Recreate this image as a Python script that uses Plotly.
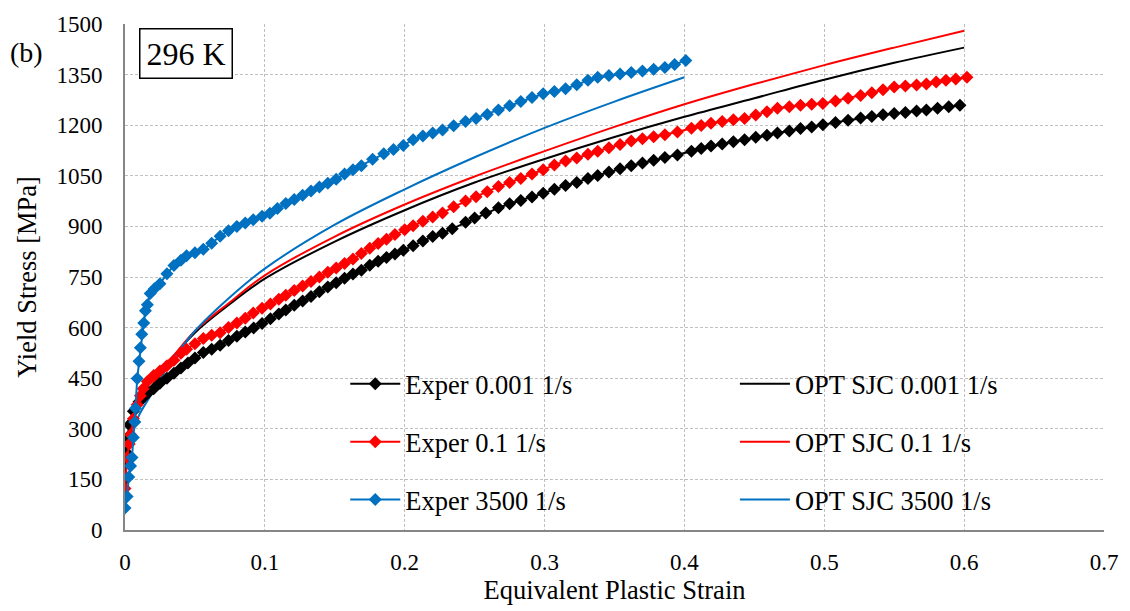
import plotly.graph_objects as go

# ---------------- data ----------------
exp_0001_strain = [0.000, 0.001, 0.002, 0.003, 0.006, 0.010, 0.013, 0.017, 0.0205, 0.025, 0.03, 0.035, 0.04, 0.045, 0.05,
                   0.056, 0.062, 0.068, 0.074, 0.08, 0.086, 0.092, 0.098, 0.104, 0.11, 0.115, 0.121, 0.127, 0.133, 0.139,
                   0.145, 0.151, 0.157, 0.163, 0.169, 0.175, 0.181, 0.187, 0.193, 0.199, 0.206, 0.213, 0.22, 0.227, 0.234,
                   0.2435, 0.25, 0.258, 0.267, 0.275, 0.283, 0.291, 0.299, 0.307, 0.315, 0.323, 0.331, 0.338, 0.346, 0.354,
                   0.362, 0.37, 0.378, 0.386, 0.395, 0.405, 0.412, 0.419, 0.427, 0.435, 0.443, 0.451, 0.459, 0.4665, 0.475,
                   0.483, 0.491, 0.499, 0.508, 0.517, 0.526, 0.534, 0.542, 0.55, 0.558, 0.566, 0.573, 0.581, 0.589, 0.597]
exp_0001_stress = [150, 230, 275, 312, 352, 380, 392, 408, 419, 435, 450, 465, 480, 495, 510,
                   526, 536, 548, 562, 574, 587, 599, 612, 626, 640, 652, 666, 679, 692, 706,
                   720, 733, 746, 759, 770, 785, 797, 808, 818, 829, 843, 857, 870, 880, 893,
                   912, 925, 940, 955, 967, 977, 987, 998, 1010, 1021, 1030, 1042, 1051, 1061, 1071,
                   1080, 1088, 1096, 1104, 1112, 1123, 1131, 1138, 1144, 1151, 1157, 1164, 1170, 1177, 1183,
                   1190, 1195, 1201, 1208, 1215, 1221, 1226, 1231, 1235, 1238, 1242, 1245, 1250, 1255, 1259]

exp_01_strain = [0.000, 0.0015, 0.003, 0.004, 0.006, 0.0087, 0.011, 0.013, 0.016, 0.0205, 0.025, 0.03, 0.035, 0.04, 0.044,
                 0.05, 0.056, 0.062, 0.068, 0.074, 0.08, 0.086, 0.0917, 0.098, 0.104, 0.11, 0.115, 0.121, 0.127, 0.133,
                 0.139, 0.145, 0.151, 0.157, 0.163, 0.169, 0.175, 0.181, 0.187, 0.193, 0.2, 0.206, 0.213, 0.22, 0.227,
                 0.235, 0.2435, 0.251, 0.259, 0.267, 0.275, 0.283, 0.291, 0.299, 0.307, 0.315, 0.323, 0.331, 0.338, 0.346,
                 0.354, 0.362, 0.37, 0.378, 0.386, 0.395, 0.405, 0.412, 0.419, 0.427, 0.435, 0.443, 0.451, 0.459, 0.4665,
                 0.475, 0.483, 0.491, 0.499, 0.508, 0.517, 0.526, 0.534, 0.542, 0.55, 0.558, 0.566, 0.573, 0.58, 0.587,
                 0.594, 0.602]
exp_01_stress = [123, 215, 255, 283, 330, 371, 398, 419, 440, 458, 471, 487, 503, 524, 536,
                 552, 568, 577, 585, 600, 614, 628, 643, 657, 670, 684, 696, 710, 723, 737,
                 750, 764, 777, 790, 803, 820, 835, 849, 862, 876, 890, 902, 915, 928, 940,
                 958, 975, 988, 1003, 1018, 1030, 1042, 1055, 1068, 1082, 1094, 1103, 1114, 1123, 1133,
                 1143, 1153, 1160, 1166, 1172, 1180, 1191, 1199, 1206, 1211, 1216, 1220, 1230, 1240, 1250,
                 1255, 1259, 1262, 1264, 1272, 1280, 1288, 1296, 1305, 1313, 1316, 1319, 1322, 1328, 1333,
                 1337, 1342]

exp_3500_strain = [0.000, 0.0015, 0.0027, 0.004, 0.005, 0.006, 0.007, 0.0075, 0.0087, 0.010, 0.011, 0.012, 0.0134, 0.0146,
                   0.016, 0.018, 0.021, 0.025, 0.03, 0.035, 0.04, 0.044, 0.05, 0.056, 0.062, 0.068, 0.074, 0.08, 0.086,
                   0.0917, 0.098, 0.1036, 0.109, 0.115, 0.121, 0.127, 0.133, 0.139, 0.145, 0.151, 0.157, 0.163, 0.169,
                   0.177, 0.185, 0.192, 0.199, 0.206, 0.213, 0.22, 0.227, 0.235, 0.2435, 0.251, 0.259, 0.267, 0.275,
                   0.283, 0.291, 0.299, 0.307, 0.315, 0.323, 0.331, 0.338, 0.346, 0.354, 0.362, 0.37, 0.378, 0.386,
                   0.393, 0.401]
exp_3500_stress = [65, 99, 157, 190, 215, 274, 320, 361, 449, 500, 540, 580, 614, 650,
                   668, 701, 715, 730, 760, 784, 800, 813, 822, 832, 850, 871, 887, 900, 910,
                   920, 930, 939, 953, 968, 980, 992, 1005, 1017, 1028, 1040, 1055, 1068, 1080,
                   1099, 1115, 1128, 1140, 1157, 1168, 1177, 1186, 1198, 1211, 1220, 1232, 1245, 1258,
                   1270, 1282, 1293, 1300, 1308, 1320, 1333, 1342, 1347, 1352, 1356, 1361, 1366, 1371,
                   1380, 1392]

opt_strain = [0.002, 0.005, 0.01, 0.02, 0.03, 0.05, 0.075, 0.1, 0.15, 0.2, 0.25, 0.3, 0.35, 0.4, 0.45, 0.5, 0.55, 0.6]
opt_0001_stress = [280, 320, 370, 430, 490, 585, 670, 745, 855, 948, 1030, 1100, 1165, 1225, 1280, 1335, 1385, 1430]
opt_01_stress = [280, 320, 370, 430, 490, 590, 675, 755, 870, 965, 1048, 1123, 1195, 1262, 1322, 1378, 1430, 1480]
opt_3500_strain = [0.002, 0.005, 0.01, 0.02, 0.03, 0.05, 0.075, 0.1, 0.15, 0.2, 0.25, 0.3, 0.35, 0.4]
opt_3500_stress = [230, 285, 340, 410, 480, 590, 690, 775, 905, 1010, 1105, 1192, 1270, 1342]

x_ticks = [0, 0.1, 0.2, 0.3, 0.4, 0.5, 0.6, 0.7]
x_tick_text = ["0", "0.1", "0.2", "0.3", "0.4", "0.5", "0.6", "0.7"]
y_ticks = [0, 150, 300, 450, 600, 750, 900, 1050, 1200, 1350, 1500]

BLACK = "#000000"
RED = "#FF0000"
BLUE = "#0070C0"
FONT = "Liberation Serif"

fig = go.Figure()

exp_series = [
    ("Exper 0.001 1/s", exp_0001_strain, exp_0001_stress, BLACK),
    ("Exper 0.1 1/s", exp_01_strain, exp_01_stress, RED),
    ("Exper 3500 1/s", exp_3500_strain, exp_3500_stress, BLUE),
]
opt_series = [
    ("OPT SJC 0.001 1/s", opt_strain, opt_0001_stress, BLACK),
    ("OPT SJC 0.1 1/s", opt_strain, opt_01_stress, RED),
    ("OPT SJC 3500 1/s", opt_3500_strain, opt_3500_stress, BLUE),
]

for i, (name, xs, ys, c) in enumerate(opt_series):
    fig.add_trace(go.Scatter(x=xs, y=ys, name=name, mode="lines",
                             line=dict(color=c, width=2, shape="spline"),
                             legend="legend2", legendgroup=f"o{i}"))

for i, (name, xs, ys, c) in enumerate(exp_series):
    fig.add_trace(go.Scatter(x=xs, y=ys, name=name, mode="lines+markers",
                             line=dict(color=c, width=2),
                             marker=dict(symbol="diamond", size=10, color=c),
                             legend="legend", legendgroup=f"e{i}"))

grid_color = "#BFBFBF"
axis_color = "#868686"
LEG_FS = 26.5

fig.update_layout(
    width=1130, height=611,
    margin=dict(l=125, r=25, t=19, b=77),
    paper_bgcolor="white", plot_bgcolor="white",
    font=dict(family=FONT, size=23, color="black"),
    showlegend=True,
    legend=dict(x=0.225, y=0.336, xanchor="left", yanchor="top",
                bgcolor="rgba(0,0,0,0)", font=dict(family=FONT, size=LEG_FS),
                tracegroupgap=20.5, traceorder="grouped", itemwidth=50),
    legend2=dict(x=0.623, y=0.336, xanchor="left", yanchor="top",
                 bgcolor="rgba(0,0,0,0)", font=dict(family=FONT, size=LEG_FS),
                 tracegroupgap=20.5, traceorder="grouped", itemwidth=50),
    xaxis=dict(range=[0, 0.7], tickvals=x_ticks, ticktext=x_tick_text,
               showgrid=True, gridcolor=grid_color, griddash="3px,2px", gridwidth=1,
               showline=True, linecolor=axis_color, linewidth=2, zeroline=False,
               ticks="", tickfont=dict(family=FONT, size=23), ticklabelstandoff=10,
               title=dict(text="Equivalent Plastic Strain", font=dict(family=FONT, size=26.5), standoff=6)),
    yaxis=dict(range=[0, 1500], tickvals=y_ticks,
               showgrid=True, gridcolor=grid_color, griddash="3px,2px", gridwidth=1,
               showline=True, linecolor=axis_color, linewidth=2, zeroline=False,
               ticks="", tickfont=dict(family=FONT, size=23), ticklabelstandoff=16,
               title=dict(text="Yield Stress [MPa]", font=dict(family=FONT, size=26.5), standoff=12)),
    annotations=[
        dict(text="296 K", xref="paper", yref="paper", x=0.0143, y=0.993, xanchor="left", yanchor="top",
             showarrow=False, font=dict(family=FONT, size=32, color="black"),
             bordercolor="black", borderwidth=1.5, borderpad=6, bgcolor="white"),
        dict(text="(b)", xref="paper", yref="paper", x=-0.1194, y=0.944, xanchor="left", yanchor="middle",
             showarrow=False, font=dict(family=FONT, size=28, color="black")),
    ],
)

fig.write_html("out.html")
